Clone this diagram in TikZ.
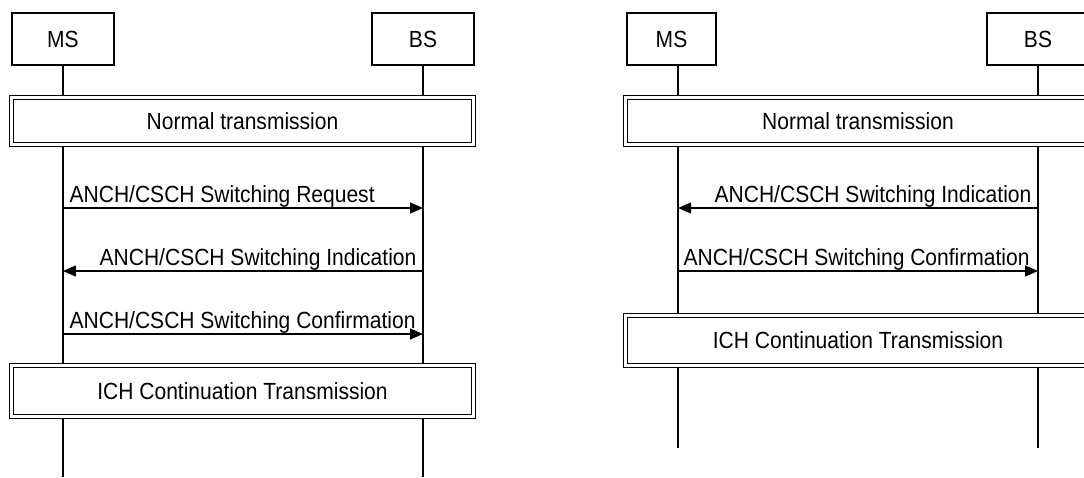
\documentclass[tikz,border=0pt]{standalone}
\usepackage{fontspec}
\setmainfont[FakeStretch=0.9]{Liberation Sans}
\usetikzlibrary{arrows.meta, positioning}

\tikzset{
  entity/.style={draw, line width=1.5pt, fill=white, minimum width=2.04cm, minimum height=1.04cm, inner sep=0pt},
  phase/.style={draw, double, double distance=1.3pt, line width=0.8pt, fill=white, inner sep=0pt},
  lifeline/.style={line width=0.75pt},
  msg/.style={line width=0.7pt, -{Triangle[length=2.6mm, width=2.2mm]}},
  msglabel/.style={inner sep=0pt, yshift=0.12cm},
}

\begin{document}
\begin{tikzpicture}[x=0.02cm, y=-0.02cm, every node/.style={font=\fontsize{13.3}{15}\selectfont}]
      \clip (0,0) rectangle (1084,477);
      % left chart
      \node[entity] (msA) at (63,39) {MS};
      \node[entity] (bsA) at (423,39) {BS};
      \coordinate (msAend) at (63,477);
      \coordinate (bsAend) at (423,477);
      \draw[lifeline] (msAend |- msA.south) -- (msAend);
      \draw[lifeline] (bsAend |- bsA.south) -- (bsAend);
      \node[phase, minimum width=9.24cm, minimum height=0.94cm] (normalA) at (242.5,121) {Normal transmission};
      \coordinate (reqA) at (0,208);
      \coordinate (indA) at (0,271);
      \coordinate (cnfA) at (0,334);
      \draw[msg] (msAend |- reqA) -- (bsAend |- reqA)
        node[msglabel, pos=0, anchor=base west, xshift=0.12cm] {ANCH/CSCH Switching Request};
      \draw[msg] (bsAend |- indA) -- (msAend |- indA)
        node[msglabel, pos=0, anchor=base east, xshift=-0.12cm] {ANCH/CSCH Switching Indication};
      \draw[msg] (msAend |- cnfA) -- (bsAend |- cnfA)
        node[msglabel, pos=0, anchor=base west, xshift=0.12cm] {ANCH/CSCH Switching Confirmation};
      \node[phase, minimum width=9.24cm, minimum height=1.02cm] (ichA) at (242.5,391) {ICH Continuation Transmission};

      % right chart
      \node[entity, minimum width=1.78cm] (msB) at (671.5,39) {MS};
      \node[entity] (bsB) at (1038,39) {BS};
      \coordinate (msBend) at (678,448);
      \coordinate (bsBend) at (1038,448);
      \draw[lifeline] (msBend |- msB.south) -- (msBend);
      \draw[lifeline] (bsBend |- bsB.south) -- (bsBend);
      \node[phase, minimum width=9.3cm, minimum height=0.94cm] (normalB) at (858,121) {Normal transmission};
      \coordinate (indB) at (0,208);
      \coordinate (cnfB) at (0,271);
      \draw[msg] (bsBend |- indB) -- (msBend |- indB)
        node[msglabel, pos=0, anchor=base east, xshift=-0.12cm] {ANCH/CSCH Switching Indication};
      \draw[msg] (msBend |- cnfB) -- (bsBend |- cnfB)
        node[msglabel, pos=0, anchor=base west, xshift=0.1cm] {ANCH/CSCH Switching Confirmation};
      \node[phase, minimum width=9.3cm, minimum height=1.0cm] (ichB) at (858,340.5) {ICH Continuation Transmission};
    \end{tikzpicture}
\end{document}
